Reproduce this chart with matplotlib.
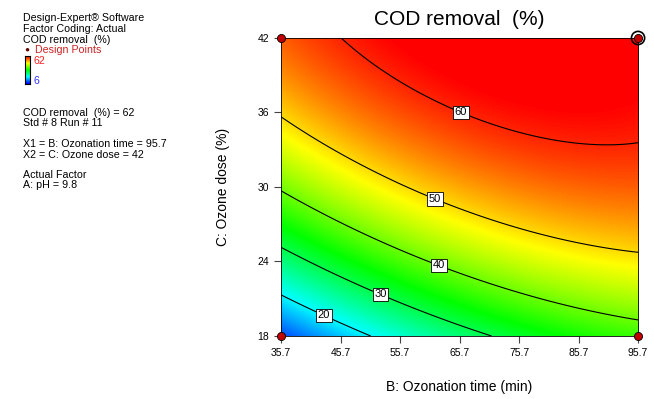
import numpy as np
import matplotlib
matplotlib.use("Agg")
import matplotlib.pyplot as plt
from matplotlib.colors import LinearSegmentedColormap

plt.rcParams["font.family"] = ["Liberation Sans", "DejaVu Sans"]

# factor levels (tick positions)
ozon_time = [35.7, 45.7, 55.7, 65.7, 75.7, 85.7, 95.7]
ozone_dose = [18, 24, 30, 36, 42]
# COD removal (%) read at each (dose row, time column)
cod = [
    [10.2, 16.9, 22.8, 27.7, 31.8, 34.9, 37.2],
    [27.2, 33.0, 37.9, 42.0, 45.2, 47.4, 48.8],
    [40.6, 45.5, 49.6, 52.8, 55.0, 56.4, 56.9],
    [50.5, 54.5, 57.7, 60.0, 61.3, 61.8, 61.4],
    [56.8, 60.0, 62.2, 63.6, 64.1, 63.7, 62.4],
]
levels = [20, 30, 40, 50, 60]
label_pos = [(43.3, 20.1), (52.9, 21.9), (62.7, 24.3), (61.9, 29.4), (66.3, 36.4)]
design_x = [35.7, 35.7, 95.7, 95.7]
design_y = [18, 42, 18, 42]

# quadratic response-surface fit of the read grid
X, Y = np.meshgrid(ozon_time, ozone_dose)
u = (X.ravel() - 65.7) / 30
v = (Y.ravel() - 30) / 12
A = np.column_stack([np.ones_like(u), u, v, u * v, u**2, v**2])
coef, *_ = np.linalg.lstsq(A, np.array(cod).ravel(), rcond=None)

xs = np.linspace(35.7, 95.7, 300)
ys = np.linspace(18, 42, 300)
XX, YY = np.meshgrid(xs, ys)
uu = (XX - 65.7) / 30
vv = (YY - 30) / 12
ZZ = (coef[0] + coef[1] * uu + coef[2] * vv + coef[3] * uu * vv
      + coef[4] * uu**2 + coef[5] * vv**2)

cmap = LinearSegmentedColormap.from_list(
    "dx", ["#0000ff", "#00ffff", "#00ff00", "#ffff00", "#ff0000"])

fig = plt.figure(figsize=(6.54, 3.99), dpi=100)
ax = fig.add_axes([0.4297, 0.1579, 0.5459, 0.7469])
ax.imshow(ZZ, extent=[35.7, 95.7, 18, 42], origin="lower", aspect="auto",
          cmap=cmap, vmin=6, vmax=62, interpolation="bilinear")
cs = ax.contour(XX, YY, ZZ, levels=levels, colors="black", linewidths=0.8)
labels = ax.clabel(cs, fmt="%d", fontsize=8, manual=label_pos, inline=True,
                   inline_spacing=2)
for t in labels:
    t.set_rotation(0)
    t.set_bbox(dict(boxstyle="square,pad=0.15", fc="white", ec="black", lw=0.6))

ax.scatter(design_x, design_y, s=34, c="#c00000", edgecolors="black",
           linewidths=0.6, zorder=5, clip_on=False)
ax.scatter([95.7], [42], s=90, facecolors="none", edgecolors="black",
           linewidths=1.2, zorder=6, clip_on=False)

ax.set_xlim(35.7, 95.7)
ax.set_ylim(18, 42)
ax.set_xticks(ozon_time)
ax.set_xticklabels([f"{t:.1f}" for t in ozon_time])
ax.set_yticks(ozone_dose)
ax.tick_params(direction="out", length=5, width=0.8, labelsize=7.5, color="#444444")
for s in ax.spines.values():
    s.set_linewidth(0.6)
ax.set_title("COD removal  (%)", fontsize=15, pad=9)
ax.set_xlabel("B: Ozonation time (min)", fontsize=10, labelpad=16)
ax.set_ylabel("C: Ozone dose (%)", fontsize=10, labelpad=20)

# left info panel
def info(y, text, color="black", x=23):
    fig.text(x / 654, 1 - y / 399, text, fontsize=7.7, color=color, va="center")

info(18, "Design-Expert® Software")
info(29, "Factor Coding: Actual")
info(40, "COD removal  (%)")
info(50, "Design Points", color="#cc2222", x=35)
fig.text(27 / 654, 1 - 50 / 399, "●", fontsize=6, color="#600000",
         va="center", ha="center")
cax = fig.add_axes([25 / 654, 1 - 84 / 399, 5 / 654, 28 / 399])
cax.imshow(np.linspace(62, 6, 50).reshape(-1, 1), cmap=cmap, vmin=6, vmax=62,
           aspect="auto")
cax.set_xticks([])
cax.set_yticks([])
for s in cax.spines.values():
    s.set_linewidth(0.8)
fig.text(34 / 654, 1 - 61 / 399, "62", fontsize=7.7, color="#ff2020", va="center")
fig.text(34 / 654, 1 - 81 / 399, "6", fontsize=7.7, color="#3030ff", va="center")
info(113, "COD removal  (%) = 62")
info(123, "Std # 8 Run # 11")
info(144, "X1 = B: Ozonation time = 95.7")
info(155, "X2 = C: Ozone dose = 42")
info(175, "Actual Factor")
info(185, "A: pH = 9.8")

fig.savefig("out.png", dpi=100)
